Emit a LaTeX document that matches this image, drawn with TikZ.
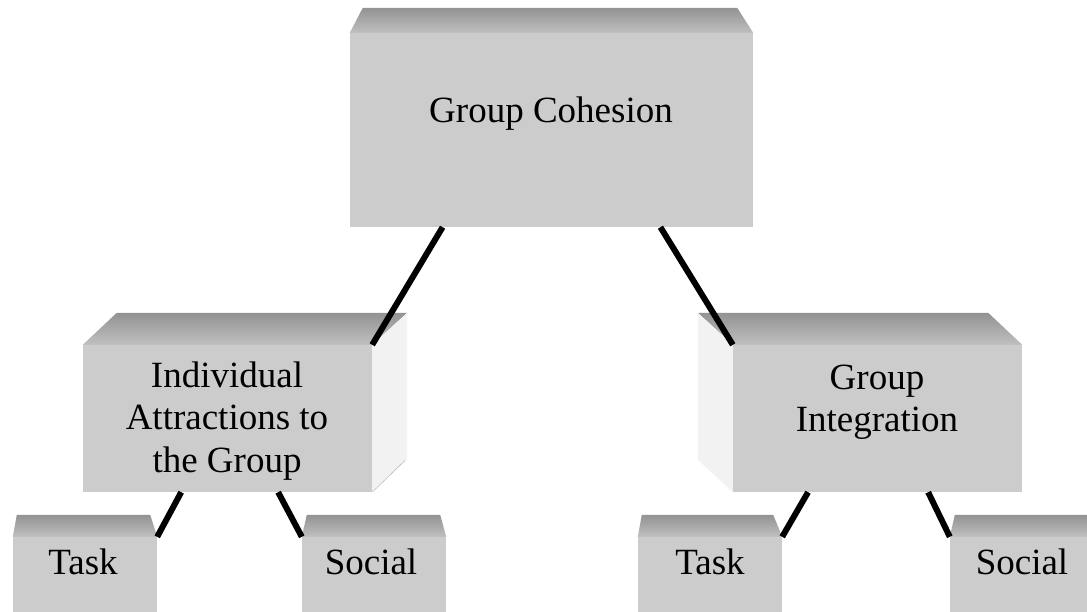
\documentclass[tikz,border=0pt]{standalone}
\usepackage{fontspec}
\setmainfont{Liberation Serif}
\usetikzlibrary{calc}

\tikzset{
  frontface/.style={fill=gray!40, inner sep=0pt},
  topface/.style={top color=gray!85, bottom color=gray!50},
  sideface/.style={fill=gray!10},
  lbl/.style={inner sep=0pt, align=center, font=\fontsize{37}{42.5}\selectfont},
  link/.style={line width=6pt, black}
}

\begin{document}
\begin{tikzpicture}[x=1pt,y=-1pt]
  \useasboundingbox (0,0) rectangle (1087,612);
  \clip (0,0) rectangle (1087,612);

  % front faces
  \node[frontface, minimum width=403pt, minimum height=194pt] (cohesion) at (551.5,130) {};
  \node[frontface, minimum width=289pt, minimum height=147pt] (attract) at (227.5,418.5) {};
  \node[frontface, minimum width=289pt, minimum height=147pt] (integ) at (877.5,418.5) {};
  \node[frontface, minimum width=144pt, minimum height=103pt] (taskA) at (85,588.5) {};
  \node[frontface, minimum width=144pt, minimum height=103pt] (socialA) at (374,588.5) {};
  \node[frontface, minimum width=144pt, minimum height=103pt] (taskB) at (710,588.5) {};
  \node[frontface, minimum width=144pt, minimum height=103pt] (socialB) at (1022,588.5) {};

  % top and side faces
  \shade[topface] (cohesion.north west) -- ++(13,-25) -- ($(cohesion.north east)+(-16,-25)$) -- (cohesion.north east) -- cycle;
  \shade[topface] (attract.north west) -- ++(34,-32) -- ($(attract.north east)+(35,-32)$) -- (attract.north east) -- cycle;
  \fill[sideface] (attract.north east) -- ++(35,-32) -- ++(0,147) -- (attract.south east) -- cycle;
  \draw[gray!60, thin] (attract.south east) -- ++(33,-32);
  \shade[topface] (integ.north west) -- ++(-35,-32) -- ($(integ.north east)+(-34,-32)$) -- (integ.north east) -- cycle;
  \fill[sideface] (integ.north west) -- ++(-35,-32) -- ++(0,147) -- (integ.south west) -- cycle;
  \shade[topface] (taskA.north west) -- ++(4,-22) -- ($(taskA.north east)+(-7,-22)$) -- (taskA.north east) -- cycle;
  \shade[topface] (socialA.north west) -- ++(5,-22) -- ($(socialA.north east)+(-6,-22)$) -- (socialA.north east) -- cycle;
  \shade[topface] (taskB.north west) -- ++(4,-22) -- ($(taskB.north east)+(-9,-22)$) -- (taskB.north east) -- cycle;
  \shade[topface] (socialB.north west) -- ++(5,-22) -- ($(socialB.north east)+(-7,-22)$) -- (socialB.north east) -- cycle;

  % labels
  \node[lbl] (cohesionT) at (551,114) {Group Cohesion};
  \node[lbl] (attractT) at (227,421) {Individual\\Attractions to\\the Group};
  \node[lbl] (integT) at (877,402) {Group\\Integration};
  \node[lbl] (taskAT) at (83,562) {Task};
  \node[lbl] (socialAT) at (371,562) {Social};
  \node[lbl] (taskBT) at (710,562) {Task};
  \node[lbl] (socialBT) at (1022,562) {Social};

  % connectors
  \draw[link] ($(cohesion.south west)!.23!(cohesion.south east)$) -- (attract.north east);
  \draw[link] ($(cohesion.south west)!.77!(cohesion.south east)$) -- (integ.north west);
  \draw[link] ($(attract.south west)!.34!(attract.south east)$) -- (taskA.north east);
  \draw[link] ($(attract.south west)!.675!(attract.south east)$) -- (socialA.north west);
  \draw[link] ($(integ.south west)!.26!(integ.south east)$) -- (taskB.north east);
  \draw[link] ($(integ.south west)!.675!(integ.south east)$) -- (socialB.north west);
\end{tikzpicture}
\end{document}
